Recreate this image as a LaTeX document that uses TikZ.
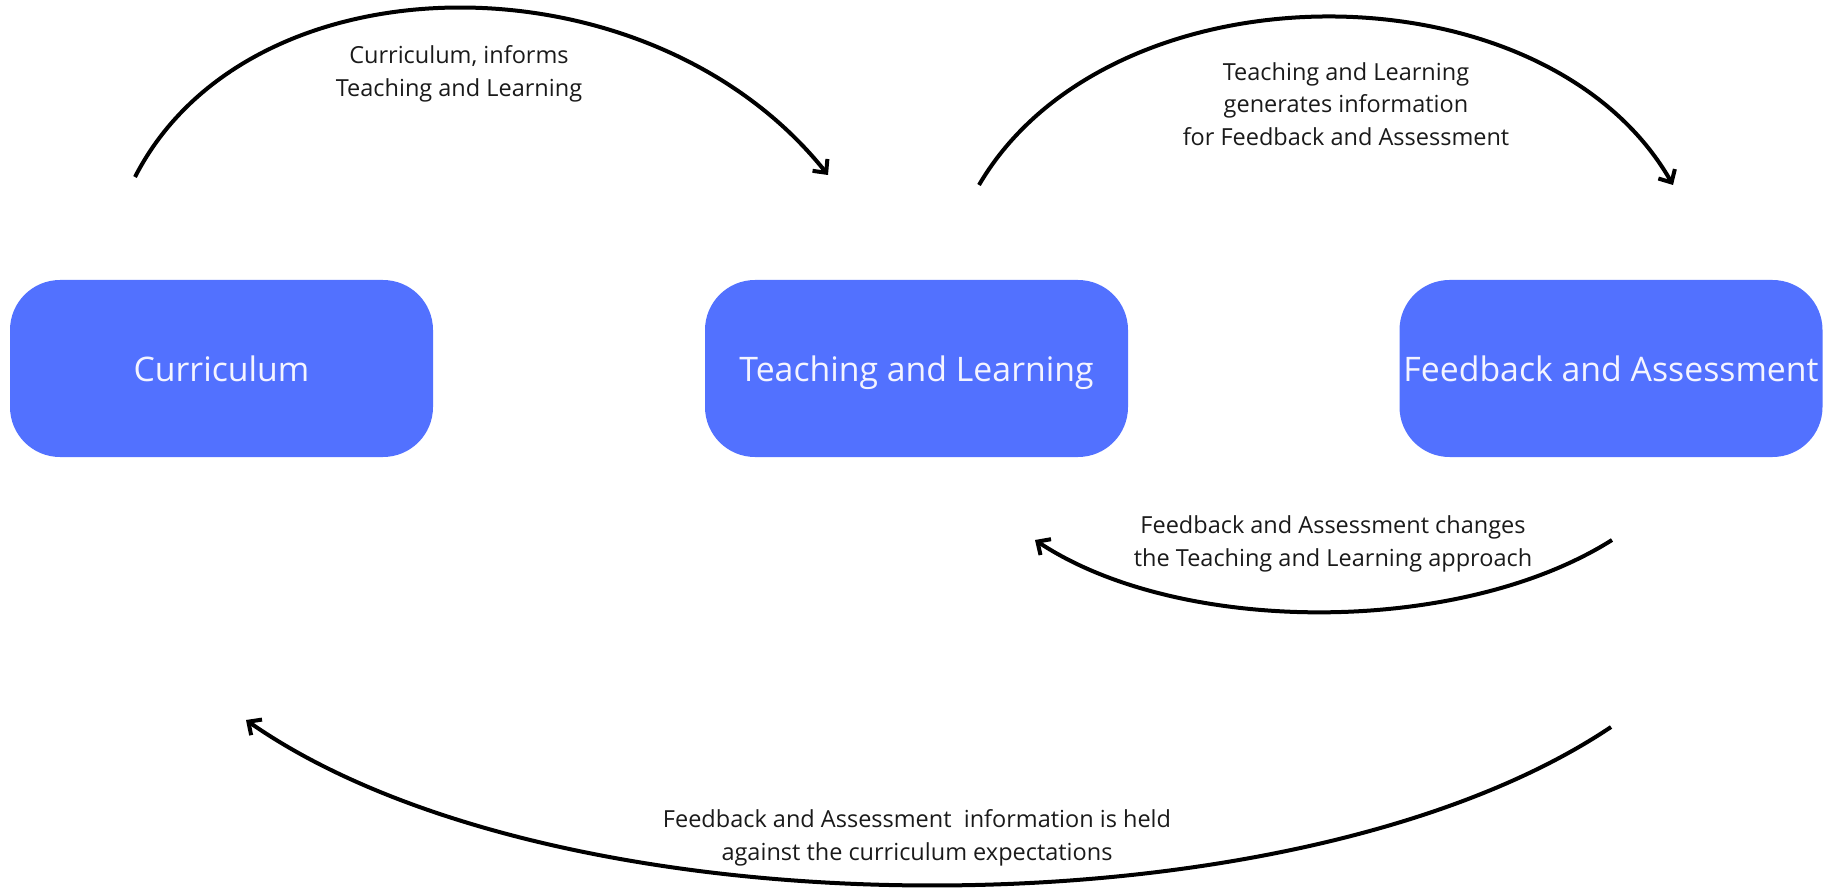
\documentclass[tikz,border=0pt]{standalone}
\usepackage{fontspec}
\setmainfont{Open Sans}
\usetikzlibrary{arrows.meta}
\definecolor{boxblue}{HTML}{5271FF}
\definecolor{boxtext}{HTML}{F4F4FF}
\definecolor{labtext}{HTML}{1A1A1A}
\tikzset{
  stagebox/.style={draw=none, fill=boxblue, rounded corners=50pt, minimum width=423pt, minimum height=177pt, inner sep=0pt, text=boxtext, text height=29pt, text depth=3pt, font=\fontsize{33.8}{40}\selectfont},
  flowlabel/.style={align=center, text=labtext, inner sep=0pt, font=\fontsize{23.5}{32.5}\selectfont},
  flowarrow/.style={line width=4pt, -{Straight Barb[length=10pt, width=19pt, line width=4pt]}, line cap=butt}
}
\begin{document}
\begin{tikzpicture}[x=1pt, y=-1pt]
\useasboundingbox (0,0) rectangle (1831,890);
\node[stagebox] (cur) at (221.5,368.5) {Curriculum};
\node[stagebox] (tl) at (916.5,368.5) {Teaching and Learning};
\node[stagebox] (fa) at (1611,368.5) {Feedback and Assessment};

\coordinate (a1s) at (135,177);
\coordinate (a1e) at (828,175);
\coordinate (a2s) at (979,185);
\coordinate (a2e) at (1673,185);
\coordinate (a3s) at (1612,540);
\coordinate (a3e) at (1035,540);
\coordinate (a4s) at (1611,727);
\coordinate (a4e) at (246,720);

\draw[flowarrow] (a1s) .. controls (250,-48) and (650,-48) .. (a1e);
\draw[flowarrow] (a2s) .. controls (1110,-39) and (1545,-39) .. (a2e);
\draw[flowarrow] (a3s) .. controls (1460,636) and (1180,636) .. (a3e);
\draw[flowarrow] (a4s) .. controls (1295,939) and (560,939) .. (a4e);

\node[flowlabel] (l1) at (459,74) {Curriculum, informs\\Teaching and Learning};
\node[flowlabel] (l2) at (1346,104) {Teaching and Learning\\generates information\\for Feedback and Assessment};
\node[flowlabel] (l3) at (1333,544) {Feedback and Assessment changes\\the Teaching and Learning approach};
\node[flowlabel] (l4) at (917,838) {Feedback and Assessment\ \ information is held\\against the curriculum expectations};
\end{tikzpicture}
\end{document}
